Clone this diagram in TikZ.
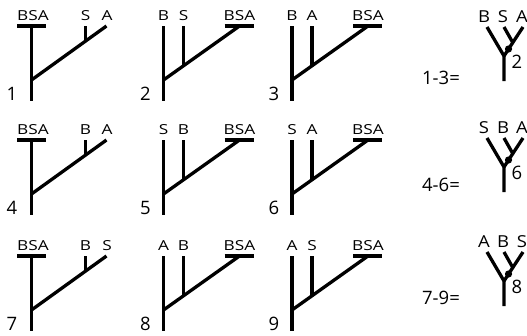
\documentclass[tikz,border=0pt]{standalone}
\usepackage{fontspec}
\setmainfont{Open Sans}
\newfontfamily\tlfont{Open Sans}[FakeStretch=1.25]
\newfontfamily\ylfont{Open Sans}[FakeStretch=1.12]
\usetikzlibrary{positioning,calc}

\tikzset{
  stroke/.style={line width=3.3pt},
  tlab/.style={inner sep=0pt,font=\tlfont\fontsize{13.8}{14}\selectfont},
  ylab/.style={inner sep=0pt,font=\ylfont\fontsize{16.5}{17}\selectfont},
  numlab/.style={inner sep=0pt,font=\fontsize{18.5}{19}\selectfont}
}

\begin{document}
\begin{tikzpicture}[x=1pt,y=-1pt]
\useasboundingbox (0,0) rectangle (527,335);
% trees with BSA on the left
\foreach \t/\n/\p/\q in {26/1/S/A,140/4/B/A,256/7/B/S}{
  \draw[stroke] (17,\t) -- (46,\t);
  \draw[stroke] (31.5,\t) -- (31.5,\t+75);
  \draw[stroke] (31.5,\t+54) -- (106.5,\t);
  \draw[stroke] (85.5,\t) -- (85.5,\t+16);
  \node[tlab] (bsa\n) at (33,\t-10) {BSA};
  \node[tlab] (p\n) at (85.5,\t-10) {\p};
  \node[tlab] (q\n) at (107,\t-10) {\q};
  \node[numlab] (n\n) at (12,\t+68) {\n};
}
% trees with BSA on the right
\foreach \x/\t/\n/\a/\b in {163.5/26/2/B/S,292/26/3/B/A,163.5/140/5/S/B,292/140/6/S/A,163.5/256/8/A/B,292/256/9/A/S}{
  \draw[stroke] (\x,\t) -- (\x,\t+75);
  \draw[stroke] (\x+20,\t) -- (\x+20,\t+40);
  \draw[stroke] (\x,\t+54) -- (\x+76,\t);
  \draw[stroke] (\x+61,\t) -- (\x+90,\t);
  \node[tlab] (a\n) at (\x,\t-10) {\a};
  \node[tlab] (b\n) at (\x+20,\t-10) {\b};
  \node[tlab] (bsa\n) at (\x+76,\t-10) {BSA};
  \node[numlab] (n\n) at (\x-18,\t+68) {\n};
}
% summary trees
\foreach \t/\e/\ey/\n/\l/\m/\r in {27/1-3=/78/2/B/S/A,138/4-6=/185/6/S/B/A,252/7-9=/298/8/A/B/S}{
  \draw[stroke,line join=bevel] (487,\t) -- (504,\t+29) -- (504,\t+54);
  \draw[stroke] (523,\t) -- (504,\t+29);
  \draw[stroke] (504,\t) -- (513,\t+16);
  \fill (508.5,\t+22) circle (3.6);
  \node[ylab] (l\n) at (484,\t-10) {\l};
  \node[ylab] (m\n) at (503,\t-10) {\m};
  \node[ylab] (r\n) at (522,\t-10) {\r};
  \node[numlab] (y\n) at (517,\t+35) {\n};
  \node[numlab] (eq\n) at (441,\ey) {\e};
}
\end{tikzpicture}
\end{document}
